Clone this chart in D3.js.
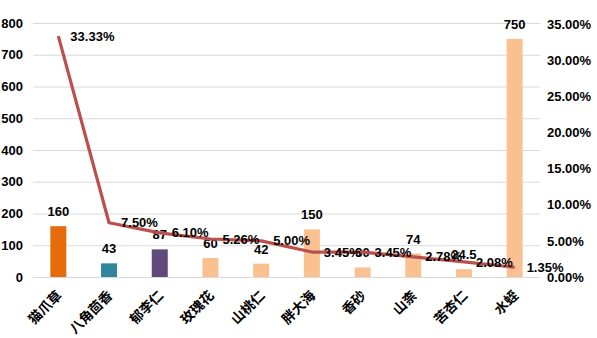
<!DOCTYPE html>
<html>
<head>
<meta charset="utf-8">
<script src="https://cdn.jsdelivr.net/npm/d3@7"></script>
<style>
  html, body { margin: 0; padding: 0; background: #fff; }
  svg { display: block; }
  text { font-family: "Liberation Sans", Arial, sans-serif; font-weight: bold; fill: #000; }
  .cat text { font-family: "Noto Sans CJK SC", sans-serif; font-weight: bold; }
</style>
</head>
<body>
<svg id="chart" width="597" height="338"></svg>
<script>
// Herb names, unit prices (bars) and share percentages (line)
const categories = ["猫爪草", "八角茴香", "郁李仁", "玫瑰花", "山桃仁", "胖大海", "香砂", "山柰", "苦杏仁", "水蛭"];
const prices = [160, 43, 87, 60, 42, 150, 30, 74, 24.5, 750];
const shares = [33.33, 7.50, 6.10, 5.26, 5.00, 3.45, 3.45, 2.78, 2.08, 1.35];
const barColors = ["#E46C0A", "#31859C", "#604A7B", "#FAC090", "#FAC090", "#FAC090", "#FAC090", "#FAC090", "#FAC090", "#FAC090"];
const leftTicks = [0, 100, 200, 300, 400, 500, 600, 700, 800];
const rightTicks = [0, 5, 10, 15, 20, 25, 30, 35];

const svg = d3.select("#chart");
const plot = { left: 33, right: 540, top: 23, bottom: 277 };

const x = d3.scaleBand().domain(categories).range([plot.left, plot.right]).paddingInner(0).paddingOuter(0);
const yL = d3.scaleLinear().domain([0, 800]).range([plot.bottom, plot.top]);
const yR = d3.scaleLinear().domain([0, 35]).range([plot.bottom, plot.top + 1]);

// horizontal gridlines
svg.append("g")
  .selectAll("line")
  .data(leftTicks)
  .join("line")
  .attr("x1", plot.left).attr("x2", plot.right)
  .attr("y1", d => yL(d) + 0.5).attr("y2", d => yL(d) + 0.5)
  .attr("stroke", "#D9D9D9").attr("stroke-width", 1);

// left axis
const leftAxis = svg.append("g")
  .attr("transform", `translate(${plot.left},0)`)
  .call(d3.axisLeft(yL).tickValues(leftTicks).tickSize(0).tickPadding(10));
leftAxis.select(".domain").remove();
leftAxis.selectAll("text").style("font-size", "13px").style("font-family", "Liberation Sans, Arial, sans-serif");

// right axis
const rightAxis = svg.append("g")
  .attr("transform", `translate(${plot.right},0)`)
  .call(d3.axisRight(yR).tickValues(rightTicks).tickSize(0).tickPadding(7).tickFormat(d => d.toFixed(2) + "%"));
rightAxis.select(".domain").remove();
rightAxis.selectAll("text").style("font-size", "13px").style("font-family", "Liberation Sans, Arial, sans-serif");

// bars
const barW = 16;
svg.append("g")
  .selectAll("rect")
  .data(categories)
  .join("rect")
  .attr("x", d => x(d) + x.bandwidth() / 2 - barW / 2)
  .attr("y", (d, i) => yL(prices[i]))
  .attr("width", barW)
  .attr("height", (d, i) => plot.bottom - yL(prices[i]))
  .attr("fill", (d, i) => barColors[i]);

// bar value labels
svg.append("g")
  .selectAll("text")
  .data(categories)
  .join("text")
  .attr("x", d => x(d) + x.bandwidth() / 2)
  .attr("y", (d, i) => yL(prices[i]) - 10)
  .attr("text-anchor", "middle")
  .style("font-size", "13px")
  .text((d, i) => prices[i]);

// share line
const line = d3.line()
  .x(d => x(d.c) + x.bandwidth() / 2)
  .y(d => yR(d.v));
const pts = categories.map((c, i) => ({ c, v: shares[i] }));
svg.append("path")
  .datum(pts)
  .attr("d", line)
  .attr("fill", "none")
  .attr("stroke", "#BA4F4C")
  .attr("stroke-width", 3.2)
  .attr("stroke-linejoin", "round");

// share labels
svg.append("g")
  .selectAll("text")
  .data(pts)
  .join("text")
  .attr("x", d => x(d.c) + x.bandwidth() / 2 + 12)
  .attr("y", d => yR(d.v))
  .attr("dy", "0.35em")
  .style("font-size", "13px")
  .text(d => d.v.toFixed(2) + "%");

// category axis labels, rotated
const cat = svg.append("g").attr("class", "cat");
cat.selectAll("text")
  .data(categories)
  .join("text")
  .attr("transform", d => `translate(${x(d) + x.bandwidth() / 2 + 1},${plot.bottom + 16}) rotate(-45)`)
  .attr("text-anchor", "end")
  .attr("dy", "0.35em")
  .style("font-size", "13.5px")
  .text(d => d);
</script>
</body>
</html>
